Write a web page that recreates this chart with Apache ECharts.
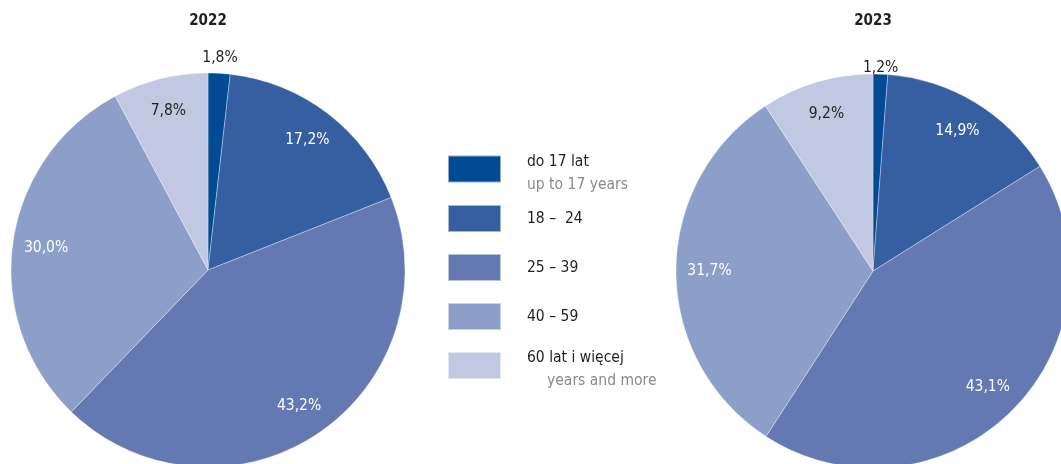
<!DOCTYPE html>
<html>
<head>
<meta charset="utf-8">
<script src="https://cdn.jsdelivr.net/npm/echarts@6/dist/echarts.min.js"></script>
<style>
  html, body { margin: 0; padding: 0; background: #fff; }
  #chart { width: 1061px; height: 464px; }
</style>
</head>
<body>
<div id="chart"></div>
<script>
// Age groups (Polish label, English subtitle)
const groupsPl = ['do 17 lat', '18 \u2013  24', '25 \u2013 39', '40 \u2013 59', '60 lat i wi\u0119cej'];
const groupsEn = ['up to 17 years', '', '', '', 'years and more'];
const colors = ['#004b93', '#355fa0', '#6479b2', '#8c9fc9', '#c1c8e2'];

// Share of each age group, percent
const years = ['2022', '2023'];
const share2022 = [1.8, 17.2, 43.2, 30.0, 7.8];
const share2023 = [1.2, 14.9, 43.1, 31.7, 9.2];

const FONT = '"Liberation Sans Narrow", "DejaVu Sans Condensed", "Noto Sans", sans-serif';
const FS = 15.5;
const R = 197;
const centers = [[208, 270], [873, 271]];
const outerLabelLen = [15, 6];

function fmt(v) { return v.toFixed(1).replace('.', ',') + '%'; }

function pieData(values) {
  return values.map((v, i) => ({ name: groupsPl[i], value: v }));
}

function labelData(values, k) {
  return values.map((v, i) => {
    const item = { name: groupsPl[i], value: v };
    if (i === 0) {
      item.label = { position: 'outside', color: '#231f20', distanceToLabelLine: 0 };
      item.labelLine = { show: false, length: outerLabelLen[k], length2: 0 };
    } else if (i === 4) {
      item.label = { color: '#231f20' };
    }
    return item;
  });
}

const seriesList = [];
[share2022, share2023].forEach((vals, k) => {
  // filled slices
  seriesList.push({
    type: 'pie',
    center: centers[k],
    radius: [0, R],
    startAngle: 90,
    clockwise: true,
    silent: true,
    animation: false,
    label: { show: false },
    labelLine: { show: false },
    itemStyle: { borderColor: 'rgba(255,255,255,0.55)', borderWidth: 0.6 },
    data: pieData(vals)
  });
  // value labels placed around 80% of the radius
  seriesList.push({
    type: 'pie',
    center: centers[k],
    radius: [124, R],
    startAngle: 90,
    clockwise: true,
    silent: true,
    animation: false,
    avoidLabelOverlap: false,
    legendHoverLink: false,
    itemStyle: { color: 'rgba(0,0,0,0)' },
    label: {
      show: true,
      position: 'inside',
      color: '#ffffff',
      fontFamily: FONT,
      fontSize: FS,
      formatter: p => fmt(p.value)
    },
    labelLine: { show: false },
    labelLayout: p => (p.dataIndex === 0 ? { align: 'center' } : {}),
    data: labelData(vals, k)
  });
});

const legendNames = groupsPl.slice();
const legendFormatter = name => {
  const i = groupsPl.indexOf(name);
  if (groupsEn[i]) {
    const sub = i === 4 ? 'c' : 'b';
    return '{a|' + name + '}\n{' + sub + '|' + groupsEn[i] + '}';
  }
  return '{s|' + name + '}';
};

const chart = echarts.init(document.getElementById('chart'), null, { renderer: 'canvas' });
chart.setOption({
  backgroundColor: '#ffffff',
  color: colors,
  animation: false,
  graphic: years.map((y, k) => ({
    type: 'text',
    x: centers[k][0],
    y: 21,
    style: {
      text: y,
      align: 'center',
      verticalAlign: 'middle',
      fontFamily: FONT,
      fontWeight: 'bold',
      fontSize: 15,
      fill: '#231f20'
    }
  })),
  legend: {
    orient: 'vertical',
    left: 447,
    top: 146,
    padding: 0,
    itemWidth: 53,
    itemHeight: 27,
    itemGap: 3,
    icon: 'rect',
    selectedMode: false,
    data: legendNames,
    formatter: legendFormatter,
    textStyle: {
      fontFamily: FONT,
      fontSize: FS,
      color: '#231f20',
      padding: [0, 0, 0, 21],
      rich: {
        a: { fontFamily: FONT, fontSize: FS, color: '#231f20', lineHeight: 31, height: 31 },
        b: { fontFamily: FONT, fontSize: FS, color: '#8a8a8a', lineHeight: 15, height: 15 },
        c: { fontFamily: FONT, fontSize: FS, color: '#8a8a8a', lineHeight: 15, height: 15, padding: [0, 0, 0, 20] },
        s: { fontFamily: FONT, fontSize: FS, color: '#231f20', lineHeight: 46, height: 46 }
      }
    }
  },
  series: seriesList
});
</script>
</body>
</html>
